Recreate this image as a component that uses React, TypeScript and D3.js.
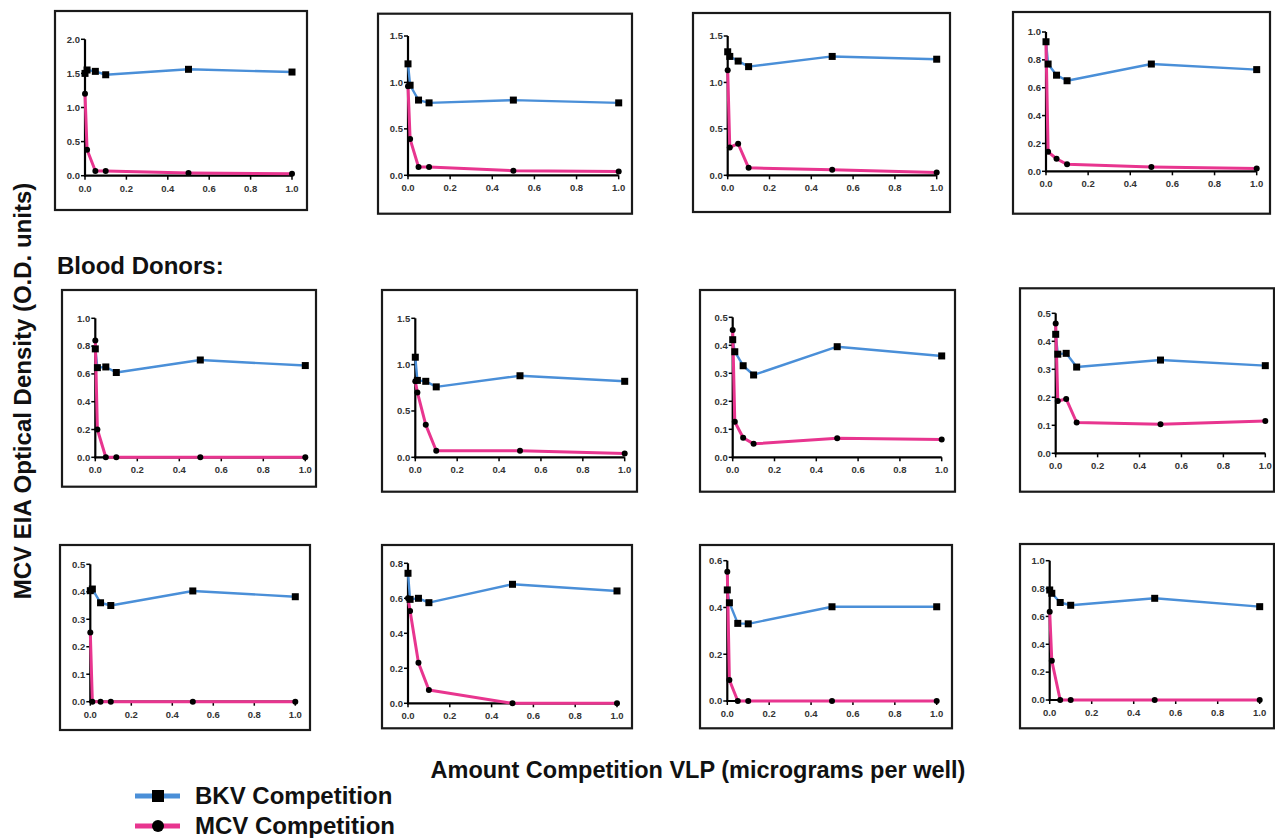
import React from "react";
import * as d3 from "d3";

// ---- data ----
const DOSES = [0, 0.01, 0.05, 0.1, 0.5, 1.0];

const BKV_SERIES: number[][] = [
  [1.5, 1.55, 1.53, 1.48, 1.56, 1.52],
  [1.2, 0.97, 0.81, 0.78, 0.81, 0.78],
  [1.33, 1.28, 1.23, 1.17, 1.28, 1.25],
  [0.93, 0.77, 0.69, 0.65, 0.77, 0.73],
  [0.78, 0.645, 0.65, 0.61, 0.7, 0.66],
  [1.08, 0.83, 0.82, 0.76, 0.88, 0.82],
  [0.42, 0.377, 0.327, 0.294, 0.395, 0.362],
  [0.425, 0.354, 0.357, 0.308, 0.333, 0.313],
  [0.404, 0.41, 0.36, 0.35, 0.403, 0.382],
  [0.743, 0.594, 0.6, 0.575, 0.68, 0.642],
  [0.475, 0.42, 0.332, 0.33, 0.403, 0.403],
  [0.79, 0.766, 0.7, 0.68, 0.73, 0.67],
];

const MCV_SERIES: number[][] = [
  [1.2, 0.38, 0.07, 0.07, 0.04, 0.03],
  [0.96, 0.39, 0.09, 0.09, 0.05, 0.04],
  [1.13, 0.3, 0.34, 0.08, 0.06, 0.03],
  [0.93, 0.14, 0.09, 0.05, 0.03, 0.02],
  [0.84, 0.2, 0, 0, 0, 0],
  [0.82, 0.7, 0.35, 0.07, 0.07, 0.04],
  [0.455, 0.127, 0.07, 0.048, 0.068, 0.064],
  [0.464, 0.187, 0.194, 0.11, 0.104, 0.115],
  [0.252, 0, 0, 0, 0, 0],
  [0.6, 0.528, 0.232, 0.076, 0, 0],
  [0.553, 0.09, 0, 0, 0, 0],
  [0.634, 0.282, 0, 0, 0, 0],
];

const Y_MAX = [2.0, 1.5, 1.5, 1.0, 1.0, 1.5, 0.5, 0.5, 0.5, 0.8, 0.6, 1.0];
const Y_STEP = [0.5, 0.5, 0.5, 0.2, 0.2, 0.5, 0.1, 0.1, 0.1, 0.2, 0.2, 0.2];
const X_TICKS = [0, 0.2, 0.4, 0.6, 0.8, 1.0];

const TITLE_GROUP = "Blood Donors:";
const Y_LABEL = "MCV EIA Optical Density (O.D. units)";
const X_LABEL = "Amount Competition VLP (micrograms per well)";
const LEGEND = ["BKV Competition", "MCV Competition"];

// ---- layout (pixel geometry of each panel) ----
type Frame = { left: number; top: number; right: number; bottom: number; x0: number; x1: number; yTop: number; yBot: number };
const FRAMES: Frame[] = [
  { left: 55, top: 11, right: 307, bottom: 210, x0: 85, x1: 292, yTop: 39.3, yBot: 175.7 },
  { left: 378, top: 13.7, right: 632, bottom: 213.7, x0: 408, x1: 618.7, yTop: 36, yBot: 175.3 },
  { left: 693, top: 13, right: 950, bottom: 212, x0: 727.7, x1: 936.7, yTop: 36, yBot: 175.3 },
  { left: 1013, top: 12, right: 1270, bottom: 213.7, x0: 1046, x1: 1256.7, yTop: 32, yBot: 171.3 },
  { left: 62, top: 290, right: 316, bottom: 486.7, x0: 95.3, x1: 305.3, yTop: 318.3, yBot: 457.3 },
  { left: 382, top: 290, right: 637, bottom: 491.7, x0: 415.3, x1: 624.7, yTop: 318.3, yBot: 457.3 },
  { left: 700, top: 290, right: 955, bottom: 491.7, x0: 732.7, x1: 941.7, yTop: 317.3, yBot: 457.3 },
  { left: 1020, top: 288.3, right: 1274, bottom: 491.7, x0: 1055.7, x1: 1265.3, yTop: 313.3, yBot: 453.3 },
  { left: 60, top: 545, right: 310, bottom: 730, x0: 90.3, x1: 295.3, yTop: 564.3, yBot: 701.7 },
  { left: 382, top: 545, right: 632, bottom: 728.3, x0: 408, x1: 617, yTop: 563.3, yBot: 703.3 },
  { left: 700, top: 545, right: 952, bottom: 728.3, x0: 727.3, x1: 936.7, yTop: 560.7, yBot: 701 },
  { left: 1020, top: 544, right: 1274, bottom: 728.3, x0: 1049.7, x1: 1259.7, yTop: 560.7, yBot: 700 },
];

const BLUE = "#4a8fd8";
const PINK = "#e8358f";
const FONT = "'Liberation Sans', Arial, Helvetica, sans-serif";

function Panel({ i }: { i: number }) {
  const f = FRAMES[i];
  const x = d3.scaleLinear().domain([0, 1]).range([f.x0, f.x1]);
  const y = d3.scaleLinear().domain([0, Y_MAX[i]]).range([f.yBot, f.yTop]);
  const nT = Math.round(Y_MAX[i] / Y_STEP[i]);
  const yTicks = d3.range(nT + 1).map((k) => +(k * Y_STEP[i]).toFixed(3));
  const line = d3
    .line<number>()
    .x((_, k) => x(DOSES[k]))
    .y((v) => y(v));
  const bkv = BKV_SERIES[i];
  const mcv = MCV_SERIES[i];
  return (
    <g>
      <rect x={f.left} y={f.top} width={f.right - f.left} height={f.bottom - f.top} fill="white" stroke="#1a1a1a" strokeWidth={2.2} />
      <line x1={f.x0} x2={f.x0} y1={f.yBot + 1} y2={f.yTop} stroke="#000" strokeWidth={2.2} />
      <line x1={f.x0 - 1} x2={f.x1} y1={f.yBot} y2={f.yBot} stroke="#000" strokeWidth={2.2} />
      {yTicks.map((t) => (
        <g key={"y" + t}>
          <line x1={f.x0 - 4} x2={f.x0} y1={y(t)} y2={y(t)} stroke="#000" strokeWidth={1.5} />
          <text x={f.x0 - 5} y={y(t)} dy="0.35em" textAnchor="end" fontSize={9.5} fontWeight="bold" fill="#333" fontFamily={FONT}>
            {d3.format(".1f")(t)}
          </text>
        </g>
      ))}
      {X_TICKS.map((t) => (
        <g key={"x" + t}>
          <line x1={x(t)} x2={x(t)} y1={f.yBot} y2={f.yBot + 4} stroke="#000" strokeWidth={1.5} />
          <text x={x(t)} y={f.yBot + 16} textAnchor="middle" fontSize={9.5} fontWeight="bold" fill="#333" fontFamily={FONT}>
            {d3.format(".1f")(t)}
          </text>
        </g>
      ))}
      <path d={line(bkv) || ""} fill="none" stroke={BLUE} strokeWidth={2.4} strokeLinejoin="round" />
      <path d={line(mcv) || ""} fill="none" stroke={PINK} strokeWidth={3} strokeLinejoin="round" />
      {mcv.map((v, k) => (
        <circle key={"m" + k} cx={x(DOSES[k])} cy={y(v)} r={3} fill="#000" />
      ))}
      {bkv.map((v, k) => (
        <rect key={"b" + k} x={x(DOSES[k]) - 3.5} y={y(v) - 3.5} width={7} height={7} fill="#000" />
      ))}
    </g>
  );
}

export default function App() {
  return (
    <svg width={1275} height={838} style={{ position: "absolute", left: 0, top: 0, background: "white" }} fontFamily={FONT}>
      <rect x={0} y={0} width={1275} height={838} fill="white" />
      {FRAMES.map((_, i) => (
        <Panel key={i} i={i} />
      ))}
      <text x={57} y={274} fontSize={24} fontWeight="bold" fill="#111">
        {TITLE_GROUP}
      </text>
      <text transform="translate(31,391) rotate(-90)" textAnchor="middle" fontSize={24} fontWeight="bold" fill="#111">
        {Y_LABEL}
      </text>
      <text x={698} y={778} textAnchor="middle" fontSize={23.5} fontWeight="bold" fill="#111">
        {X_LABEL}
      </text>
      <line x1={135} x2={180} y1={796} y2={796} stroke={BLUE} strokeWidth={5} />
      <rect x={152} y={790} width={12} height={12} fill="#000" />
      <text x={195} y={804} fontSize={24} fontWeight="bold" fill="#111">
        {LEGEND[0]}
      </text>
      <line x1={135} x2={180} y1={826} y2={826} stroke={PINK} strokeWidth={5} />
      <circle cx={158} cy={826} r={6} fill="#000" />
      <text x={195} y={834} fontSize={24} fontWeight="bold" fill="#111">
        {LEGEND[1]}
      </text>
    </svg>
  );
}
